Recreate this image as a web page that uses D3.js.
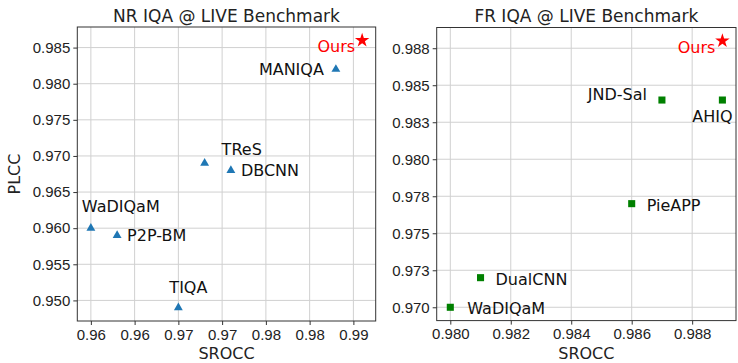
<!DOCTYPE html>
<html>
<meta charset="utf-8">
<style>
body { margin: 0; background: #fff; }
svg { font-family: "DejaVu Sans", sans-serif; }
.grid line { stroke: #d0d0d0; stroke-width: 1; }
.axis path, .axis line { stroke: #333; }
.axis text { font-size: 15px; fill: #222; }
.title { font-size: 17px; text-anchor: middle; fill: #222; }
.alabel { font-size: 16px; text-anchor: middle; fill: #222; }
.name { font-size: 16px; fill: #111; }
.ours { fill: red; }
</style>
<body>
<script src="https://cdn.jsdelivr.net/npm/d3@7"></script>
<script>

// NR IQA panel
var nrNames = ["WaDIQaM", "P2P-BM", "TIQA", "DBCNN", "TReS", "MANIQA"];
var nrSrocc = [0.960, 0.963, 0.970, 0.976, 0.973, 0.988];
var nrPlcc  = [0.960, 0.959, 0.949, 0.968, 0.969, 0.982];
var nrOurs = [0.991, 0.986];
var nrXTicks = [0.960, 0.965, 0.970, 0.975, 0.980, 0.985, 0.990];
var nrXTickLabels = ["0.96", "0.96", "0.97", "0.97", "0.98", "0.98", "0.99"];
var nrYTicks = [0.950, 0.955, 0.960, 0.965, 0.970, 0.975, 0.980, 0.985];
var nrYTickLabels = ["0.950", "0.955", "0.960", "0.965", "0.970", "0.975", "0.980", "0.985"];

// FR IQA panel
var frNames = ["WaDIQaM", "DualCNN", "PieAPP", "JND-Sal", "AHIQ"];
var frSrocc = [0.980, 0.981, 0.986, 0.987, 0.989];
var frPlcc  = [0.970, 0.972, 0.977, 0.984, 0.984];
var frOurs = [0.989, 0.988];
var frXTicks = [0.980, 0.982, 0.984, 0.986, 0.988];
var frXTickLabels = ["0.980", "0.982", "0.984", "0.986", "0.988"];
var frYTicks = [0.970, 0.9725, 0.975, 0.9775, 0.980, 0.9825, 0.985, 0.9875];
var frYTickLabels = ["0.970", "0.973", "0.975", "0.978", "0.980", "0.983", "0.985", "0.988"];

// label placement (anchor, dx, dy) per method
var labelPos = {
  "nr": {
    "WaDIQaM": ["start", -9, -16], "P2P-BM": ["start", 10, 6], "TIQA": ["start", -9, -15],
    "DBCNN": ["start", 10, 6], "TReS": ["start", 17, -8], "MANIQA": ["end", -12, 6]
  },
  "fr": {
    "WaDIQaM": ["start", 17, 7], "DualCNN": ["start", 15, 7], "PieAPP": ["start", 15, 7],
    "JND-Sal": ["end", -15, 0], "AHIQ": ["middle", -10, 22]
  }
};

var svg = d3.select("body").append("svg")
    .attr("width", 738)
    .attr("height", 363);

function margin5(vals) {
  var lo = d3.min(vals), hi = d3.max(vals), m = (hi - lo) * 0.05;
  return [lo - m, hi + m];
}

function panel(o) {
  var x = d3.scaleLinear().domain(margin5(o.srocc.concat([o.ours[0]]))).range([o.left, o.right]);
  var y = d3.scaleLinear().domain(margin5(o.plcc.concat([o.ours[1]]))).range([o.bottom, o.top]);
  var g = svg.append("g");

  g.append("g").attr("class", "grid")
    .selectAll("line").data(o.xTicks).enter().append("line")
    .attr("x1", function(d) { return x(d); }).attr("x2", function(d) { return x(d); })
    .attr("y1", o.top).attr("y2", o.bottom);
  g.append("g").attr("class", "grid")
    .selectAll("line").data(o.yTicks).enter().append("line")
    .attr("y1", function(d) { return y(d); }).attr("y2", function(d) { return y(d); })
    .attr("x1", o.left).attr("x2", o.right);

  g.append("rect")
    .attr("x", o.left).attr("y", o.top)
    .attr("width", o.right - o.left).attr("height", o.bottom - o.top)
    .attr("fill", "none").attr("stroke", "#333");

  g.append("g").attr("class", "axis")
    .attr("transform", "translate(0," + o.bottom + ")")
    .call(d3.axisBottom(x).tickValues(o.xTicks).tickSize(4).tickPadding(4)
      .tickFormat(function(d, i) { return o.xTickLabels[i]; }))
    .select(".domain").remove();
  g.append("g").attr("class", "axis")
    .attr("transform", "translate(" + o.left + ",0)")
    .call(d3.axisLeft(y).tickValues(o.yTicks).tickSize(4).tickPadding(3)
      .tickFormat(function(d, i) { return o.yTickLabels[i]; }))
    .select(".domain").remove();

  g.append("text").attr("class", "title")
    .attr("x", (o.left + o.right) / 2).attr("y", 22).text(o.title);
  g.append("text").attr("class", "alabel")
    .attr("x", (o.left + o.right) / 2).attr("y", 359).text("SROCC");
  if (o.ylabel) {
    g.append("text").attr("class", "alabel")
      .attr("transform", "translate(20," + (o.top + o.bottom) / 2 + ") rotate(-90)")
      .text(o.ylabel);
  }

  var pts = o.names.map(function(n, i) { return { name: n, sx: o.srocc[i], py: o.plcc[i] }; });

  g.selectAll(".pt").data(pts).enter().append("path")
    .attr("class", "pt")
    .attr("transform", function(d) { return "translate(" + x(d.sx) + "," + y(d.py) + ")"; })
    .attr("d", d3.symbol().type(o.symbol).size(o.symbolSize))
    .attr("fill", o.color);

  g.selectAll(".name").data(pts).enter().append("text")
    .attr("class", "name")
    .attr("x", function(d) { return x(d.sx) + labelPos[o.key][d.name][1]; })
    .attr("y", function(d) { return y(d.py) + labelPos[o.key][d.name][2]; })
    .attr("text-anchor", function(d) { return labelPos[o.key][d.name][0]; })
    .text(function(d) { return d.name; });

  g.append("path")
    .attr("transform", "translate(" + x(o.ours[0]) + "," + y(o.ours[1]) + ")")
    .attr("d", d3.symbol().type(d3.symbolStar).size(65))
    .attr("fill", "red");
  g.append("text").attr("class", "name ours")
    .attr("x", x(o.ours[0]) - 7).attr("y", y(o.ours[1]) + 12)
    .attr("text-anchor", "end").text("Ours");
}

panel({
  key: "nr", title: "NR IQA @ LIVE Benchmark", ylabel: "PLCC",
  names: nrNames, srocc: nrSrocc, plcc: nrPlcc, ours: nrOurs,
  xTicks: nrXTicks, xTickLabels: nrXTickLabels, yTicks: nrYTicks, yTickLabels: nrYTickLabels,
  left: 77.3, right: 375.7, top: 27, bottom: 321,
  symbol: d3.symbolTriangle, symbolSize: 34, color: "#1f77b4"
});

panel({
  key: "fr", title: "FR IQA @ LIVE Benchmark", ylabel: null,
  names: frNames, srocc: frSrocc, plcc: frPlcc, ours: frOurs,
  xTicks: frXTicks, xTickLabels: frXTickLabels, yTicks: frYTicks, yTickLabels: frYTickLabels,
  left: 436.7, right: 736, top: 27.5, bottom: 320.6,
  symbol: d3.symbolSquare, symbolSize: 50, color: "green"
});

</script>
</body>
</html>
